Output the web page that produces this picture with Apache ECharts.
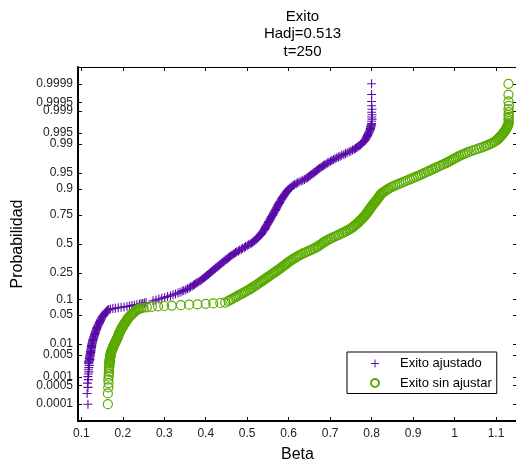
<!DOCTYPE html>
<html>
<head>
<meta charset="utf-8">
<script src="https://cdn.jsdelivr.net/npm/echarts@6/dist/echarts.min.js"></script>
<style>html,body{margin:0;padding:0;background:#fff}#c{width:516px;height:466px}</style>
</head>
<body>
<div id="c"></div>
<script>
// ---- data ----
const titleLines = ['Exito', 'Hadj=0.513', 't=250'];
const seriesNames = ['Exito ajustado', 'Exito sin ajustar'];
const xTicks = [0.1, 0.2, 0.3, 0.4, 0.5, 0.6, 0.7, 0.8, 0.9, 1, 1.1];
const probTicks = [0.0001, 0.0005, 0.001, 0.005, 0.01, 0.05, 0.1, 0.25, 0.5, 0.75, 0.9, 0.95, 0.99, 0.995, 0.999, 0.9995, 0.9999];

// normal scores (probit of the plotting positions) of the sampled points
const normalScores = [
 -3.72,-3.47,-3.33,-3.23,-3.15,-3.08,-3.02,-2.97,-2.92,-2.87,-2.82,
 -2.78,-2.76,-2.74,-2.72,-2.70,-2.68,-2.66,-2.64,-2.62,-2.60,
 -2.58,-2.56,-2.54,-2.52,-2.50,-2.48,-2.46,-2.44,-2.42,-2.40,
 -2.38,-2.36,-2.34,-2.32,-2.30,-2.28,-2.26,-2.24,-2.22,-2.20,
 -2.18,-2.16,-2.14,-2.12,-2.10,-2.08,-2.06,-2.04,-2.02,-2.00,
 -1.98,-1.96,-1.94,-1.92,-1.90,-1.88,-1.86,-1.84,-1.82,-1.80,
 -1.78,-1.76,-1.74,-1.72,-1.70,-1.68,-1.66,-1.64,-1.62,-1.60,
 -1.58,-1.56,-1.54,
 -1.52,-1.51,-1.50,-1.49,-1.48,-1.47,-1.46,-1.45,-1.44,-1.43,-1.42,-1.41,-1.40,-1.39,-1.38,-1.37,-1.36,
 -1.32,-1.30,-1.28,-1.26,-1.24,-1.22,-1.20,-1.18,-1.16,-1.14,
 -1.12,-1.10,-1.08,-1.06,-1.04,-1.02,-1.00,-0.98,-0.96,-0.94,
 -0.92,-0.90,-0.88,-0.86,-0.84,-0.82,-0.80,-0.78,-0.76,-0.74,
 -0.72,-0.70,-0.68,-0.66,-0.64,-0.62,-0.60,-0.58,-0.56,-0.54,
 -0.52,-0.50,-0.48,-0.46,-0.44,-0.42,-0.40,-0.38,-0.36,-0.34,
 -0.32,-0.30,-0.28,-0.26,-0.24,-0.22,-0.20,-0.18,-0.16,-0.14,
 -0.12,-0.10,-0.08,-0.06,-0.04,-0.02,0.00,0.02,0.04,0.06,
 0.08,0.10,0.12,0.14,0.16,0.18,0.20,0.22,0.24,0.26,
 0.28,0.30,0.32,0.34,0.36,0.38,0.40,0.42,0.44,0.46,
 0.48,0.50,0.52,0.54,0.56,0.58,0.60,0.62,0.64,0.66,
 0.68,0.70,0.72,0.74,0.76,0.78,0.80,0.82,0.84,0.86,
 0.88,0.90,0.92,0.94,0.96,0.98,1.00,1.02,1.04,1.06,
 1.08,1.10,1.12,1.14,1.16,1.18,1.20,1.22,1.24,1.26,
 1.28,1.30,1.32,1.34,1.36,1.38,1.40,1.42,1.44,1.46,
 1.48,1.50,1.52,1.54,1.56,1.58,1.60,1.62,1.64,1.66,
 1.68,1.70,1.72,1.74,1.76,1.78,1.80,1.82,1.84,1.86,
 1.88,1.90,1.92,1.94,1.96,1.98,2.00,2.02,2.04,2.06,
 2.08,2.10,2.12,2.14,2.16,2.18,2.20,2.22,2.24,2.26,
 2.28,2.30,2.32,2.34,2.36,2.38,2.40,2.42,2.44,2.46,
 2.48,2.50,2.52,2.54,2.56,2.58,2.60,2.62,2.64,2.66,
 2.68,2.70,2.72,2.74,2.76,2.78,2.80,
 2.85,2.90,2.95,3.00,3.06,3.13,3.21,3.31,3.47,3.72];

// Exito ajustado (beta at each normal score)
const adjBeta = [
 0.116,0.114,0.116,0.115,0.117,0.116,0.117,0.118,0.117,0.118,0.119,
 0.118,0.117,0.119,0.118,0.120,0.121,0.119,0.120,0.120,0.122,
 0.121,0.121,0.122,0.123,0.122,0.124,0.123,0.123,0.124,0.125,
 0.124,0.125,0.125,0.126,0.126,0.127,0.127,0.128,0.128,0.129,
 0.130,0.130,0.131,0.132,0.132,0.133,0.134,0.134,0.135,0.136,
 0.137,0.137,0.138,0.139,0.140,0.141,0.142,0.143,0.144,0.145,
 0.146,0.147,0.148,0.149,0.150,0.152,0.153,0.155,0.156,0.158,
 0.159,0.161,0.163,
 0.166,0.170,0.176,0.182,0.189,0.196,0.203,0.210,0.216,0.222,0.228,0.234,0.240,0.244,0.248,0.252,0.256,
 0.273,0.280,0.287,0.294,0.301,0.308,0.315,0.321,0.327,0.333,
 0.338,0.343,0.347,0.352,0.356,0.360,0.363,0.367,0.370,0.373,
 0.376,0.379,0.382,0.386,0.389,0.391,0.394,0.397,0.399,0.402,
 0.404,0.407,0.409,0.412,0.414,0.417,0.419,0.422,0.424,0.427,
 0.429,0.432,0.434,0.437,0.439,0.442,0.444,0.447,0.449,0.452,
 0.455,0.457,0.460,0.463,0.466,0.469,0.472,0.475,0.479,0.482,
 0.486,0.489,0.493,0.496,0.500,0.503,0.507,0.510,0.513,0.516,
 0.518,0.521,0.523,0.525,0.527,0.529,0.531,0.533,0.534,0.536,
 0.537,0.539,0.540,0.542,0.543,0.544,0.545,0.546,0.547,0.549,
 0.550,0.551,0.552,0.554,0.555,0.556,0.557,0.558,0.559,0.561,
 0.562,0.563,0.564,0.565,0.566,0.568,0.569,0.570,0.571,0.572,
 0.573,0.574,0.575,0.577,0.578,0.579,0.580,0.582,0.583,0.584,
 0.585,0.587,0.588,0.590,0.591,0.593,0.594,0.596,0.597,0.599,
 0.601,0.603,0.606,0.608,0.611,0.614,0.618,0.621,0.625,0.630,
 0.634,0.638,0.642,0.645,0.648,0.651,0.653,0.656,0.659,0.661,
 0.664,0.667,0.669,0.672,0.675,0.678,0.681,0.684,0.687,0.690,
 0.694,0.697,0.701,0.704,0.708,0.712,0.716,0.720,0.724,0.728,
 0.733,0.737,0.741,0.746,0.750,0.754,0.758,0.761,0.764,0.767,
 0.770,0.773,0.775,0.777,0.779,0.781,0.783,0.785,0.786,0.787,
 0.788,0.789,0.790,0.791,0.792,0.793,0.794,0.795,0.796,0.797,
 0.797,0.798,0.798,0.799,0.799,0.800,0.800,
 0.800,0.801,0.800,0.801,0.800,0.801,0.800,0.800,0.800,0.800];

// Exito sin ajustar (beta at each normal score)
const rawBeta = [
 0.164,0.164,0.165,0.166,0.165,0.166,0.166,0.167,0.167,0.167,0.168,
 0.168,0.167,0.168,0.169,0.169,0.168,0.169,0.170,0.170,0.169,
 0.170,0.171,0.171,0.172,0.172,0.173,0.174,0.175,0.176,0.176,
 0.177,0.178,0.179,0.180,0.181,0.182,0.183,0.184,0.185,0.186,
 0.187,0.188,0.189,0.189,0.190,0.191,0.192,0.193,0.194,0.195,
 0.196,0.197,0.198,0.200,0.201,0.202,0.203,0.205,0.206,0.208,
 0.209,0.210,0.212,0.213,0.215,0.217,0.219,0.221,0.223,0.225,
 0.228,0.230,0.233,
 0.236,0.238,0.241,0.245,0.250,0.258,0.270,0.285,0.300,0.318,0.340,0.360,0.380,0.400,0.418,0.435,0.447,
 0.455,0.459,0.463,0.467,0.471,0.474,0.478,0.482,0.486,0.490,
 0.494,0.497,0.501,0.505,0.508,0.511,0.514,0.518,0.521,0.524,
 0.527,0.530,0.533,0.536,0.539,0.542,0.545,0.548,0.551,0.554,
 0.557,0.560,0.563,0.566,0.569,0.572,0.575,0.578,0.581,0.583,
 0.586,0.589,0.592,0.594,0.597,0.600,0.603,0.606,0.609,0.612,
 0.616,0.619,0.623,0.627,0.631,0.635,0.640,0.644,0.649,0.653,
 0.658,0.662,0.666,0.670,0.673,0.676,0.679,0.682,0.685,0.688,
 0.692,0.696,0.700,0.704,0.709,0.713,0.718,0.722,0.727,0.731,
 0.735,0.739,0.743,0.747,0.750,0.753,0.756,0.758,0.761,0.763,
 0.766,0.768,0.770,0.772,0.774,0.776,0.778,0.780,0.782,0.784,
 0.786,0.787,0.789,0.790,0.792,0.793,0.795,0.796,0.798,0.799,
 0.801,0.802,0.804,0.805,0.807,0.809,0.811,0.812,0.814,0.815,
 0.817,0.818,0.820,0.821,0.823,0.825,0.828,0.831,0.834,0.837,
 0.840,0.844,0.848,0.852,0.857,0.862,0.867,0.872,0.877,0.882,
 0.887,0.892,0.897,0.902,0.907,0.912,0.917,0.921,0.926,0.930,
 0.935,0.939,0.944,0.948,0.953,0.957,0.962,0.966,0.971,0.975,
 0.980,0.984,0.988,0.992,0.996,0.999,1.003,1.007,1.011,1.015,
 1.020,1.025,1.030,1.035,1.041,1.047,1.053,1.059,1.065,1.071,
 1.076,1.081,1.086,1.090,1.094,1.097,1.100,1.103,1.105,1.107,
 1.109,1.111,1.113,1.115,1.116,1.118,1.119,1.121,1.122,1.124,
 1.125,1.126,1.127,1.128,1.129,1.130,1.130,
 1.131,1.130,1.131,1.130,1.131,1.130,1.131,1.130,1.130,1.130];

// ---- normal probability scale (inverse normal CDF, Acklam) ----
function probit(p) {
  const a = [-3.969683028665376e+01, 2.209460984245205e+02, -2.759285104469687e+02, 1.383577518672690e+02, -3.066479806614716e+01, 2.506628277459239e+00];
  const b = [-5.447609879822406e+01, 1.615858368580409e+02, -1.556989798598866e+02, 6.680131188771972e+01, -1.328068155288572e+01];
  const c = [-7.784894002430293e-03, -3.223964580411365e-01, -2.400758277161838e+00, -2.549732539343734e+00, 4.374664141464968e+00, 2.938163982698783e+00];
  const d = [7.784695709041462e-03, 3.224671290700398e-01, 2.445134137142996e+00, 3.754408661907416e+00];
  const pl = 0.02425, ph = 1 - pl;
  let q, r;
  if (p < pl) {
    q = Math.sqrt(-2 * Math.log(p));
    return (((((c[0]*q+c[1])*q+c[2])*q+c[3])*q+c[4])*q+c[5]) / ((((d[0]*q+d[1])*q+d[2])*q+d[3])*q+1);
  } else if (p <= ph) {
    q = p - 0.5; r = q * q;
    return (((((a[0]*r+a[1])*r+a[2])*r+a[3])*r+a[4])*r+a[5])*q / (((((b[0]*r+b[1])*r+b[2])*r+b[3])*r+b[4])*r+1);
  } else {
    q = Math.sqrt(-2 * Math.log(1 - p));
    return -(((((c[0]*q+c[1])*q+c[2])*q+c[3])*q+c[4])*q+c[5]) / ((((d[0]*q+d[1])*q+d[2])*q+d[3])*q+1);
  }
}

const zTicks = probTicks.map(probit);
function zLabel(v) {
  let best = 0, bd = Infinity;
  zTicks.forEach((z, i) => { const dd = Math.abs(z - v); if (dd < bd) { bd = dd; best = i; } });
  return String(probTicks[best]);
}
function pairs(betas) {
  const n = Math.min(betas.length, normalScores.length);
  const out = [];
  for (let i = 0; i < n; i++) out.push([betas[i], normalScores[i]]);
  return out;
}

const FONT = 'Liberation Sans, Arial, Helvetica, sans-serif';
const PURPLE = '#5a0aa8';
const GREEN = '#5aaa00';
const PLUS = 'path://M0,4.4H4.4V0H5.6V4.4H10V5.6H5.6V10H4.4V5.6H0Z';

const chart = echarts.init(document.getElementById('c'), null, { renderer: 'canvas' });
const ZMAX = 4.11;

const tickStyle = { show: true, inside: true, length: 4, lineStyle: { color: '#000', width: 1 } };

chart.setOption({
  animation: false,
  backgroundColor: '#fff',
  title: {
    text: titleLines.join('\n'),
    left: 297.5, top: 3, textAlign: 'center',
    textStyle: { fontFamily: FONT, fontSize: 15, fontWeight: 'normal', color: '#000', lineHeight: 17.5 }
  },
  legend: {
    orient: 'vertical',
    left: 347, top: 352,
    padding: [5, 5, 4, 23],
    itemWidth: 40, itemHeight: 8, itemGap: 6.5,
    borderColor: '#000', borderWidth: 1,
    backgroundColor: '#fff',
    textStyle: { fontFamily: FONT, fontSize: 13, color: '#000' },
    data: seriesNames
  },
  grid: { left: 78, top: 67, right: -1, bottom: 45, containLabel: false, outerBoundsMode: 'none' },
  xAxis: [{
    type: 'value', min: 0.092, max: 1.1506,
    name: 'Beta', nameLocation: 'middle', nameGap: 26,
    nameTextStyle: { fontFamily: FONT, fontSize: 16, color: '#000' },
    axisLine: { show: true, onZero: false, lineStyle: { color: '#000', width: 2 } },
    axisTick: Object.assign({ customValues: xTicks }, tickStyle),
    axisLabel: { customValues: xTicks, margin: 7, fontFamily: FONT, fontSize: 12, color: '#222',
      formatter: v => String(Math.round(v * 10) / 10) },
    splitLine: { show: false }
  }, {
    type: 'value', position: 'top', min: 0.092, max: 1.1506,
    axisLine: { show: true, onZero: false, lineStyle: { color: '#000', width: 1 } },
    axisTick: Object.assign({ customValues: xTicks }, tickStyle),
    axisLabel: { show: false },
    splitLine: { show: false }
  }],
  yAxis: [{
    type: 'value', min: -ZMAX, max: ZMAX,
    name: 'Probabilidad', nameLocation: 'middle', nameGap: 38, nameRotate: 90,
    nameTextStyle: { fontFamily: FONT, fontSize: 16, color: '#000' },
    axisLine: { show: true, onZero: false, lineStyle: { color: '#000', width: 2 } },
    axisTick: Object.assign({ customValues: zTicks }, tickStyle),
    axisLabel: { customValues: zTicks, margin: 5, fontFamily: FONT, fontSize: 12, color: '#222', formatter: zLabel },
    splitLine: { show: false }
  }, {
    type: 'value', position: 'right', min: -ZMAX, max: ZMAX,
    axisLine: { show: true, onZero: false, lineStyle: { color: '#000', width: 1 } },
    axisTick: Object.assign({ customValues: zTicks }, tickStyle),
    axisLabel: { show: false },
    splitLine: { show: false }
  }],
  series: [{
    name: seriesNames[0], type: 'scatter',
    symbol: PLUS, symbolSize: 9,
    itemStyle: { color: PURPLE, opacity: 1 },
    data: pairs(adjBeta)
  }, {
    name: seriesNames[1], type: 'scatter',
    symbol: 'circle', symbolSize: 9,
    itemStyle: { color: 'rgba(0,0,0,0)', borderColor: GREEN, borderWidth: 1.2, opacity: 1 },
    data: pairs(rawBeta)
  }]
});
</script>
</body>
</html>
